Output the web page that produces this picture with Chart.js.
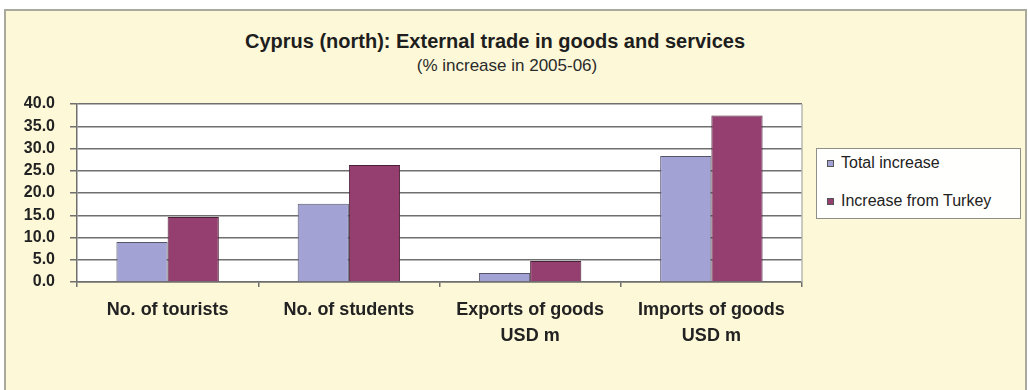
<!DOCTYPE html>
<html>
<head>
<meta charset="utf-8">
<script src="https://cdn.jsdelivr.net/npm/chart.js"></script>
<style>
  html, body { margin: 0; padding: 0; background: #ffffff; }
  #frame {
    position: absolute; left: 4px; top: 9px; width: 1019px; height: 390px;
    background: #fdf8d8; border: 2px solid #a9a99c; border-bottom: none;
  }
  #wrap { position: absolute; left: 0; top: 0; width: 1028px; height: 390px; }
  .title {
    position: absolute; top: 30px; left: 0; width: 990px; text-align: center;
    font: bold 20px "Liberation Sans", Arial, sans-serif; color: #1e1e1e;
  }
  .subtitle {
    position: absolute; top: 56px; left: 0; width: 1014px; text-align: center;
    font: 17px "Liberation Sans", Arial, sans-serif; color: #2a2a2a;
  }
  #legend {
    position: absolute; left: 816px; top: 148px; width: 203px; height: 69px;
    background: #fffffd; border: 1px solid #8f8f88;
    font: 16px "Liberation Sans", Arial, sans-serif; color: #222;
  }
  #legend .item { position: absolute; left: 10px; height: 20px; line-height: 20px; white-space: nowrap; }
  #legend .box {
    display: inline-block; width: 5px; height: 5px; margin-right: 7px;
    border: 1px solid #555; vertical-align: middle;
  }
</style>
</head>
<body>
<div id="frame"></div>
<div class="title">Cyprus (north): External trade in goods and services</div>
<div class="subtitle">(% increase in 2005-06)</div>
<div id="wrap"><canvas id="tradeChart" width="1028" height="390"></canvas></div>
<div id="legend"></div>
<script>
  const categories = [
    ['No. of tourists'],
    ['No. of students'],
    ['Exports of goods', 'USD m'],
    ['Imports of goods', 'USD m']
  ];
  const totalIncrease = [9.0, 17.6, 2.0, 28.3];
  const turkeyIncrease = [14.6, 26.3, 4.7, 37.4];
  const seriesNames = ['Total increase', 'Increase from Turkey'];
  const seriesColors = ['#a2a2d4', '#943f70'];

  // white plot area with a light frame on the right
  const plotBackground = {
    id: 'plotBackground',
    beforeDraw(chart) {
      const a = chart.chartArea;
      const c = chart.ctx;
      c.save();
      c.fillStyle = '#ffffff';
      c.fillRect(a.left, a.top, a.right - a.left, a.bottom - a.top);
      c.restore();
    },
    afterDraw(chart) {
      const a = chart.chartArea;
      const c = chart.ctx;
      c.save();
      c.strokeStyle = '#b9b9b0';
      c.lineWidth = 1.5;
      c.beginPath();
      c.moveTo(a.right, a.top);
      c.lineTo(a.right, a.bottom);
      c.stroke();
      c.restore();
    }
  };

  const ctx = document.getElementById('tradeChart');
  const chart = new Chart(ctx, {
    type: 'bar',
    data: {
      labels: categories,
      datasets: [{
        label: seriesNames[0],
        data: totalIncrease,
        backgroundColor: seriesColors[0],
        borderColor: '#55556a',
        borderWidth: 1
      }, {
        label: seriesNames[1],
        data: turkeyIncrease,
        backgroundColor: seriesColors[1],
        borderColor: '#4a2036',
        borderWidth: 1
      }]
    },
    options: {
      responsive: false,
      animation: false,
      layout: { padding: { left: 0, top: 104, right: 226, bottom: 0 } },
      datasets: { bar: { categoryPercentage: 0.565, barPercentage: 1.0 } },
      plugins: {
        legend: { display: false },
        title: { display: false },
        tooltip: { enabled: false }
      },
      scales: {
        x: {
          offset: true,
          grid: { offset: true, drawOnChartArea: false, tickLength: 5, color: '#6f6f6f', lineWidth: 1.5 },
          border: { color: '#6f6f6f', width: 1.5 },
          ticks: {
            color: '#222',
            padding: 10,
            maxRotation: 0,
            font: { family: 'Liberation Sans', size: 18, weight: 'bold', lineHeight: 1.45 }
          },
          afterFit(scale) { scale.height = 108; }
        },
        y: {
          min: 0,
          max: 40,
          grid: { color: '#6f6f6f', lineWidth: 1.5, tickLength: 7 },
          border: { color: '#6f6f6f', width: 1.5 },
          ticks: {
            stepSize: 5,
            color: '#222',
            padding: 15,
            font: { family: 'Liberation Sans', size: 16, weight: 'bold' },
            callback: (v) => v.toFixed(1)
          },
          afterFit(scale) { scale.width = 77; }
        }
      }
    },
    plugins: [plotBackground]
  });

  // legend box built from the chart's datasets
  const legend = document.getElementById('legend');
  chart.data.datasets.forEach((ds, i) => {
    const item = document.createElement('div');
    item.className = 'item';
    item.style.top = (4 + i * 38) + 'px';
    item.innerHTML = '<span class="box" style="background:' + ds.backgroundColor + '"></span>' + ds.label;
    legend.appendChild(item);
  });
</script>
</body>
</html>
